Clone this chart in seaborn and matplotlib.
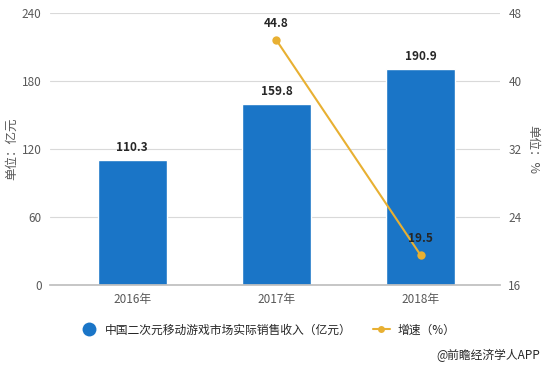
import numpy as np
import pandas as pd
import matplotlib
matplotlib.use("Agg")
import matplotlib.pyplot as plt
import seaborn as sns
from matplotlib.lines import Line2D

# data
years = ["2016年", "2017年", "2018年"]
revenue = [110.3, 159.8, 190.9]
growth_years = ["2017年", "2018年"]
growth = [44.8, 19.5]

bar_color = "#1a75c7"
line_color = "#e8b032"
grey = "#595959"

sns.set_theme(style="white")
plt.rcParams["font.family"] = ["Noto Sans CJK SC", "DejaVu Sans"]

df = pd.DataFrame({"year": years, "revenue": revenue})

fig = plt.figure(figsize=(5.46, 3.68), dpi=100)
ax = fig.add_axes([50 / 546, 1 - 285 / 368, 450 / 546, 272 / 368])

sns.barplot(data=df, x="year", y="revenue", color=bar_color, saturation=1,
            width=0.48, ax=ax, zorder=2)
ax.set_xlim(-0.57, 2.55)
ax.set_ylim(0, 240)
ax.set_yticks([0, 60, 120, 180, 240])
ax.yaxis.grid(True, color="#d9d9d9", linewidth=0.8, zorder=0)
for s in ["top", "right", "left"]:
    ax.spines[s].set_visible(False)
ax.spines["bottom"].set_color("#bfbfbf")
ax.tick_params(axis="x", length=4, color="#bfbfbf", labelsize=8.5, labelcolor=grey, pad=2)
ax.tick_params(axis="y", length=0, labelsize=8.5, labelcolor=grey, pad=6)
ax.set_xlabel("")
ax.set_ylabel("单位：亿元", fontsize=9, color=grey)
ax.yaxis.set_label_coords(-0.071, 0.5)

for i, v in enumerate(revenue):
    ax.text(i, v + 5, f"{v}", ha="center", va="bottom", fontsize=8.5,
            fontweight="bold", color="#262626")

# right axis
ax2 = ax.twinx()
gx = [years.index(y) for y in growth_years]
sns.lineplot(x=gx, y=growth, color=line_color, marker="o", markersize=6,
             markeredgewidth=0, linewidth=1.5, ax=ax2, zorder=3)
ax2.set_ylim(16, 48)
ax2.set_yticks([16, 24, 32, 40, 48])
for s in ["top", "right", "left", "bottom"]:
    ax2.spines[s].set_visible(False)
ax2.tick_params(axis="y", length=0, labelsize=8.5, labelcolor=grey, pad=6)
ax2.set_ylabel("单位：%", fontsize=9, color=grey, rotation=270, va="center")
ax2.yaxis.set_label_coords(1.073, 0.5)
ax2.set_xlim(-0.57, 2.55)
for x, v in zip(gx, growth):
    ax2.text(x, v + 1.2, f"{v}", ha="center", va="bottom", fontsize=8.5,
             fontweight="bold", color="#262626")

# legend
handles = [
    Line2D([0], [0], marker="o", color="none", markerfacecolor=bar_color,
           markeredgewidth=0, markersize=10),
    Line2D([0], [0], marker="o", color=line_color, markerfacecolor=line_color,
           markeredgewidth=0, markersize=5, linewidth=1.5),
]
fig.legend(handles, ["中国二次元移动游戏市场实际销售收入（亿元）", "增速（%）"],
           loc="center", bbox_to_anchor=(0.49, 1 - 330 / 368), ncol=2,
           frameon=False, fontsize=8.5, handlelength=1.5, columnspacing=1.8,
           handletextpad=0.6, labelcolor="#262626")

fig.text(0.99, 1 - 355 / 368, "@前瞻经济学人APP", ha="right", va="center",
         fontsize=8.5, color="#262626")

fig.savefig("out.png", dpi=100)
